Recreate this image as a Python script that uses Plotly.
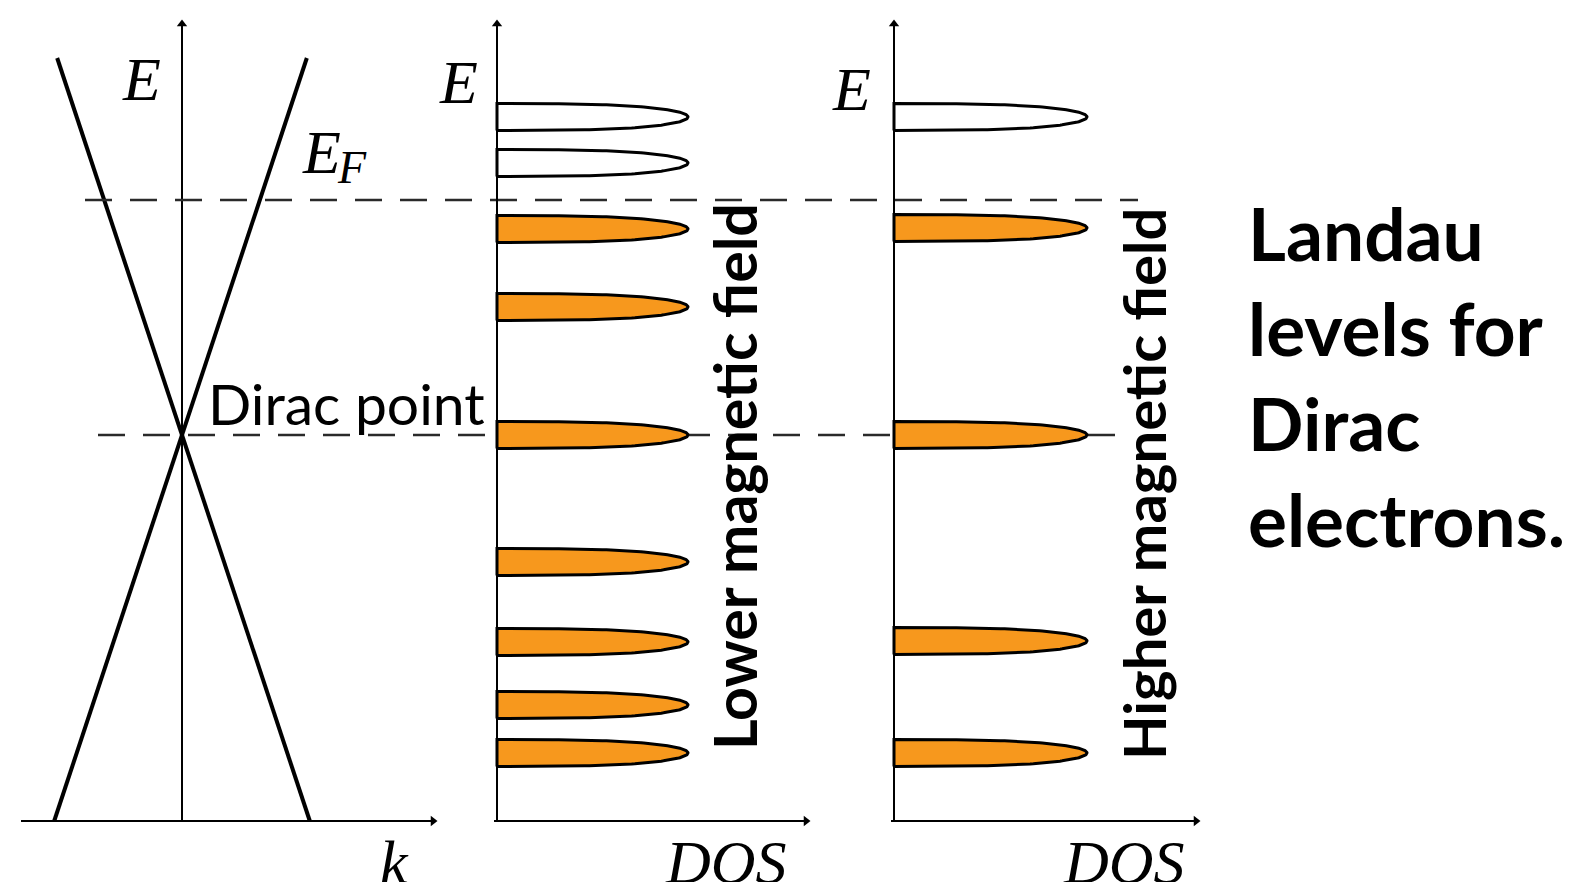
import numpy as np
import plotly.graph_objects as go

# ---------------- data (energy in arbitrary units, Dirac point = 0) ----------------
fermi_velocity = 3.02        # slope of the Dirac cone  E = +/- v k
E_cone_top = 3.77            # energy range over which the cone is drawn
E_cone_bottom = -3.86
E_fermi = 2.35
E_dirac = 0.0
low_field_levels = [3.18, 2.72, 2.06, 1.28, 0.0, -1.27, -2.07, -2.70, -3.18]
high_field_levels = [3.18, 2.07, 0.0, -2.06, -3.18]
dos_peak_low = 1.91
dos_peak_high = 1.93
level_halfwidth = 0.135

W, H = 1579, 882
ORANGE = "#F7981D"
PX = 100.0  # pixels per unit


def px(x):
    return x / W


def py(y):
    return 1 - y / H


fig = go.Figure()

# axis systems: x -> k panel, x2 -> low-field DOS, x3 -> high-field DOS
origins = {"x": 182, "x2": 497, "x3": 894}
y_range = [(435 - H) / PX, 435 / PX]

E_axis_bottom = (435 - 821) / PX
E_axis_top = (435 - 24) / PX

line_black = dict(color="black", width=2)


def axis_lines(xa, x_left, x_right):
    fig.add_trace(go.Scatter(x=[0, 0], y=[E_axis_bottom, E_axis_top], mode="lines",
                             line=line_black, xaxis=xa, yaxis="y", hoverinfo="skip"))
    fig.add_trace(go.Scatter(x=[x_left, x_right], y=[E_axis_bottom, E_axis_bottom], mode="lines",
                             line=line_black, xaxis=xa, yaxis="y", hoverinfo="skip"))
    fig.add_trace(go.Scatter(x=[0], y=[E_axis_top], mode="markers",
                             marker=dict(symbol="triangle-up", size=9, color="black"),
                             xaxis=xa, yaxis="y", hoverinfo="skip"))
    fig.add_trace(go.Scatter(x=[x_right], y=[E_axis_bottom], mode="markers",
                             marker=dict(symbol="triangle-right", size=9, color="black"),
                             xaxis=xa, yaxis="y", hoverinfo="skip"))


# Landau level lenses (blunt half-lens profile)
def add_levels(xa, levels, peak):
    t = np.linspace(-np.pi / 2, np.pi / 2, 120)
    for E0 in levels:
        c = np.cos(t)
        xs = peak * np.power(c, 2.0 / 3.0)
        ys = E0 + level_halfwidth * np.sin(t)
        filled = E0 < E_fermi
        fig.add_trace(go.Scatter(
            x=list(xs) + [0.0], y=list(ys) + [ys[0]], mode="lines",
            fill="toself", fillcolor=ORANGE if filled else "white",
            line=dict(color="black", width=3), xaxis=xa, yaxis="y", hoverinfo="skip"))


add_levels("x2", low_field_levels, dos_peak_low)
add_levels("x3", high_field_levels, dos_peak_high)

# Dirac cone
E_line = np.array([E_cone_bottom, E_cone_top])
for sgn in (1, -1):
    fig.add_trace(go.Scatter(x=sgn * E_line / fermi_velocity, y=E_line, mode="lines",
                             line=dict(color="black", width=4), xaxis="x", yaxis="y",
                             hoverinfo="skip"))

axis_lines("x", (21 - 182) / PX, (433 - 182) / PX)
axis_lines("x2", -0.03, (806 - 497) / PX)
axis_lines("x3", -0.03, (1196 - 894) / PX)

# dashed reference lines (Fermi level and Dirac point)
dash = dict(color="#2a2a2a", width=2.4, dash="27px,18px")
fig.add_trace(go.Scatter(x=[(85 - 182) / PX, (1138 - 182) / PX], y=[E_fermi, E_fermi],
                         mode="lines", line=dash, xaxis="x", yaxis="y", hoverinfo="skip"))
fig.add_trace(go.Scatter(x=[(98 - 182) / PX, (1118 - 182) / PX], y=[E_dirac, E_dirac],
                         mode="lines", line=dash, xaxis="x", yaxis="y", hoverinfo="skip"))

serif_it = "Liberation Serif"
sans = "Lato"


def ann(text, x, y, size, family, xanchor="center", angle=0, bold=False, italic=False):
    t = text
    if bold:
        t = "<b>" + t + "</b>"
    if italic:
        t = "<i>" + t + "</i>"
    fig.add_annotation(text=t, x=px(x), y=py(y), xref="paper", yref="paper",
                       xanchor=xanchor, yanchor="middle", showarrow=False,
                       textangle=angle, font=dict(size=size, family=family, color="black"))


ann("E", 141, 79, 62, serif_it, italic=True)
ann("E", 458, 82, 62, serif_it, italic=True)
ann("E", 851, 89, 62, serif_it, italic=True)
ann("E", 321, 152, 62, serif_it, italic=True)
ann("F", 352, 167, 46, serif_it, italic=True)
ann("Dirac point", 206, 403, 57, sans, xanchor="left")
ann("k", 394, 862, 62, serif_it, italic=True)
ann("DOS", 726, 862, 62, serif_it, italic=True)
ann("DOS", 1124, 862, 62, serif_it, italic=True)
ann("Lower magnetic field", 734, 477, 59, sans, angle=-90, bold=True)
ann("Higher magnetic field", 1143, 484, 58, sans, angle=-90, bold=True)
for line_text, yc in zip(["Landau", "levels for", "Dirac", "electrons."], [233, 328, 423, 519]):
    ann(line_text, 1246, yc, 73, sans, xanchor="left", bold=True)

ax_common = dict(visible=False, fixedrange=True, domain=[0, 1])
fig.update_layout(
    width=W, height=H, margin=dict(l=0, r=0, t=0, b=0),
    paper_bgcolor="white", plot_bgcolor="white", showlegend=False,
    xaxis=dict(range=[-origins["x"] / PX, (W - origins["x"]) / PX], **ax_common),
    xaxis2=dict(range=[-origins["x2"] / PX, (W - origins["x2"]) / PX], overlaying="x", **ax_common),
    xaxis3=dict(range=[-origins["x3"] / PX, (W - origins["x3"]) / PX], overlaying="x", **ax_common),
    yaxis=dict(range=y_range, visible=False, fixedrange=True, domain=[0, 1]),
)

fig.write_html("out.html", config={"displayModeBar": False},
               post_script="document.body.style.margin='0';")
